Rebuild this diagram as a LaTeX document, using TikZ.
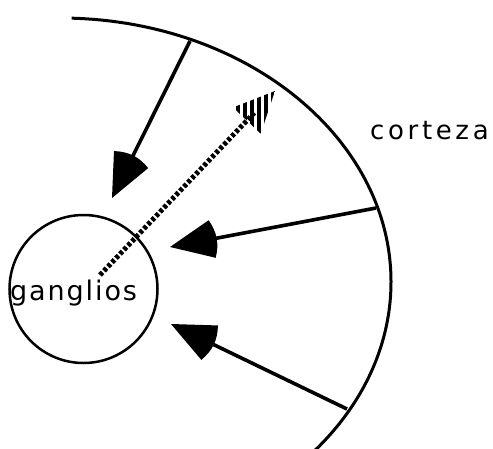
\documentclass[tikz,border=0pt]{standalone}
\usepackage{fontspec}
\setmainfont{DejaVu Sans}
\usetikzlibrary{calc,patterns.meta}
\newcommand\sectorhead[2]{\fill (#2) -- ($(#2)!47pt!24:(#1)$) to[bend left=24] ($(#2)!47pt!-24:(#1)$) -- cycle;}
\begin{document}
\begin{tikzpicture}[x=1pt,y=-1pt,
  arcline/.style={line width=3pt},
  shaft/.style={line width=3.6pt},
  hatchline/.style={line width=5pt, dash pattern=on 3.6pt off 2.2pt},
  hatchhead/.style={pattern={Lines[angle=90,distance=7pt,line width=3.8pt]}},
  lbl/.style={inner sep=0pt, anchor=base west}]
\useasboundingbox (0,0) rectangle (493,448);
\begin{scope}
\clip (0,0) rectangle (493,448);
% cortex arc (elliptic)
\coordinate (ctr) at (60,282);
\draw[arcline] (ctr) ++(-88:331 and 264) arc[start angle=-88, end angle=42, x radius=331, y radius=264];
\end{scope}
% ganglia
\node[draw, circle, line width=2.5pt, minimum size=148pt, inner sep=0pt] (gang) at (83.5,289) {};
\node[lbl] (gtext) at (10,300) {\fontsize{27}{30}\selectfont\addfontfeature{LetterSpace=7}ganglios};
\node[lbl] (ctext) at (370,139) {\fontsize{26}{30}\selectfont\addfontfeature{LetterSpace=14}corteza};
% arrows cortex -> ganglia
\coordinate (s1) at (190,41);  \coordinate (t1) at (112,198);
\coordinate (s2) at (376,208); \coordinate (t2) at (170,247);
\coordinate (s3) at (347,409); \coordinate (t3) at (171,324);
\draw[shaft] (s1) -- ($(t1)!20pt!(s1)$);
\draw[shaft] (s2) -- ($(t2)!20pt!(s2)$);
\draw[shaft] (s3) -- ($(t3)!20pt!(s3)$);
\sectorhead{s1}{t1}
\sectorhead{s2}{t2}
\sectorhead{s3}{t3}
% hatched arrow ganglia -> cortex
\coordinate (d0) at (100,275); \coordinate (ht) at (275,91);
\draw[hatchline] (d0) -- ($(ht)!30pt!(d0)$);
\fill[hatchhead] (ht) -- ($(ht)!45pt!25:(d0)$) -- ($(ht)!45pt!-25:(d0)$) -- cycle;
\end{tikzpicture}
\end{document}
